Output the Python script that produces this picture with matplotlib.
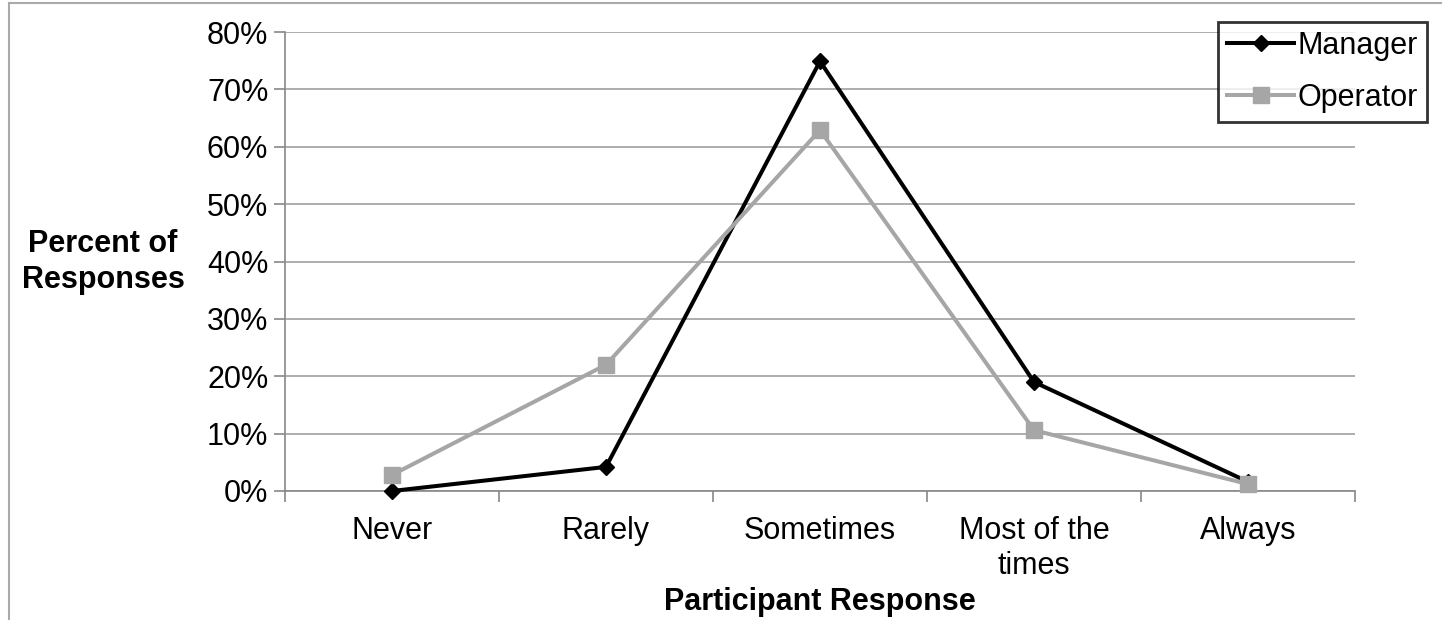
import matplotlib.pyplot as plt
from matplotlib.lines import Line2D
from matplotlib.ticker import FixedLocator, PercentFormatter

plt.rcParams['font.family'] = ['Liberation Sans', 'DejaVu Sans']

categories = ['Never', 'Rarely', 'Sometimes', 'Most of the\ntimes', 'Always']
manager = [0.0, 4.2, 74.9, 19.0, 1.6]
operator = [2.8, 22.0, 62.9, 10.6, 1.2]

fig = plt.figure(figsize=(14.42, 6.2), dpi=100)
ax = fig.add_axes([285 / 1442, 1 - 491 / 620, (1355 - 285) / 1442, (491 - 32) / 620])

x = list(range(len(categories)))
ax.plot(x, manager, color='black', lw=2.9, marker='D', markersize=8, label='Manager',
        zorder=3, clip_on=False)
ax.plot(x, operator, color='#a6a6a6', lw=2.9, marker='s', markersize=11, label='Operator',
        zorder=4, clip_on=False)

ax.set_xlim(-0.5, 4.5)
ax.set_ylim(0, 80)
ax.yaxis.set_major_locator(FixedLocator(range(0, 81, 10)))
ax.yaxis.set_major_formatter(PercentFormatter(decimals=0))
ax.set_xticks(x)
ax.set_xticklabels(categories)
ax.xaxis.set_minor_locator(FixedLocator([-0.5, 0.5, 1.5, 2.5, 3.5, 4.5]))
ax.tick_params(axis='x', which='major', length=0, pad=18, labelsize=22)
ax.tick_params(axis='x', which='minor', length=8, color='#888888', width=1.2)
ax.tick_params(axis='y', length=8, color='#888888', width=1.2, labelsize=22, pad=4)
for lbl in ax.get_xticklabels():
    lbl.set_linespacing(1.22)

ax.grid(True, axis='y', color='#a0a0a0', lw=1.2)
ax.set_axisbelow(True)
for s in ['top', 'right']:
    ax.spines[s].set_visible(False)
for s in ['left', 'bottom']:
    ax.spines[s].set_color('#888888')
    ax.spines[s].set_linewidth(1.2)

fig.text(103 / 1442, 1 - 262 / 620, 'Percent of\nResponses', ha='center', va='center',
         fontsize=22, fontweight='bold', linespacing=1.3)
fig.text(820 / 1442, 1 - 602 / 620, 'Participant Response', ha='center', va='center',
         fontsize=22, fontweight='bold')

leg = ax.legend(loc='upper right', bbox_to_anchor=(1427 / 1442, 1 - 22 / 620),
                bbox_transform=fig.transFigure, fontsize=22, frameon=True, fancybox=False,
                handlelength=2.2, handletextpad=0.1, borderpad=0.3, labelspacing=0.7,
                borderaxespad=0)
leg.get_frame().set_edgecolor('black')
leg.get_frame().set_linewidth(2)

# outer frame (top and left edges of the source image)
fig.add_artist(Line2D([9 / 1442, 1], [1 - 3 / 620, 1 - 3 / 620], color='#aaaaaa', lw=1.5,
                      transform=fig.transFigure))
fig.add_artist(Line2D([9 / 1442, 9 / 1442], [0, 1 - 3 / 620], color='#aaaaaa', lw=1.5,
                      transform=fig.transFigure))

fig.savefig('out.png', dpi=100)
